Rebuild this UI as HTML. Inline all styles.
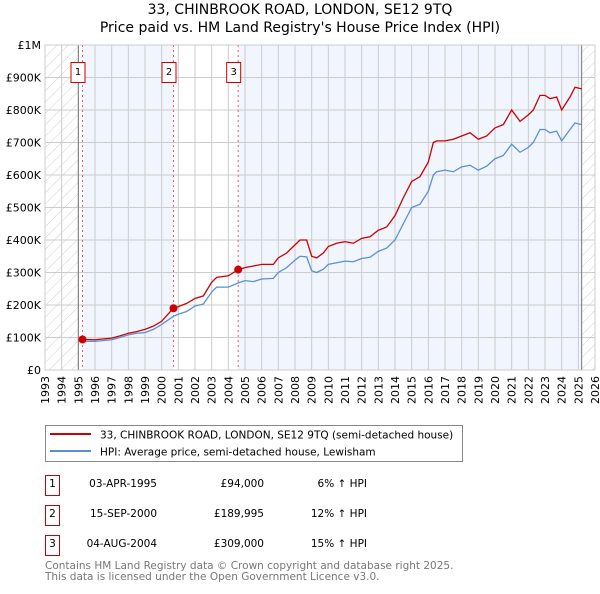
<!DOCTYPE html>
<html><head><meta charset="utf-8"><style>
body{margin:0;background:#fff;font-family:"DejaVu Sans","Liberation Sans",sans-serif;}
svg text{font-family:"DejaVu Sans","Liberation Sans",sans-serif;}
</style></head><body>
<svg id="c" width="600" height="590" xmlns="http://www.w3.org/2000/svg">
<defs><pattern id="hatch" width="8" height="8" patternUnits="userSpaceOnUse" patternTransform="rotate(45)"><line x1="0" y1="0" x2="0" y2="8" stroke="#bbb" stroke-width="0.7"/></pattern></defs>
<text x="300" y="14" text-anchor="middle" font-size="14">33, CHINBROOK ROAD, LONDON, SE12 9TQ</text>
<text x="300" y="32" text-anchor="middle" font-size="14">Price paid vs. HM Land Registry's House Price Index (HPI)</text>
<g id="plot"></g>
<g>
<rect x="45.5" y="425.5" width="417" height="36" fill="#fff" stroke="#888"/>
<line x1="50" y1="434" x2="91" y2="434" stroke="#cc0000" stroke-width="2"/>
<text x="100" y="438.5" font-size="10.5">33, CHINBROOK ROAD, LONDON, SE12 9TQ (semi-detached house)</text>
<line x1="50" y1="451" x2="91" y2="451" stroke="#5b8fd4" stroke-width="2"/>
<text x="100" y="455.5" font-size="10.5">HPI: Average price, semi-detached house, Lewisham</text>
</g>
<g font-size="10.5">
<rect x="45.5" y="475.5" width="14" height="20" fill="#fff" stroke="#cc0000"/><text x="52.5" y="487" text-anchor="middle">1</text>
<text x="157" y="487" text-anchor="end">03-APR-1995</text><text x="264" y="487" text-anchor="end">£94,000</text><text x="367" y="487" text-anchor="end">6% ↑ HPI</text>
<rect x="45.5" y="505.5" width="14" height="20" fill="#fff" stroke="#cc0000"/><text x="52.5" y="517" text-anchor="middle">2</text>
<text x="157" y="517" text-anchor="end">15-SEP-2000</text><text x="264" y="517" text-anchor="end">£189,995</text><text x="367" y="517" text-anchor="end">12% ↑ HPI</text>
<rect x="45.5" y="535.5" width="14" height="20" fill="#fff" stroke="#cc0000"/><text x="52.5" y="547" text-anchor="middle">3</text>
<text x="157" y="547" text-anchor="end">04-AUG-2004</text><text x="264" y="547" text-anchor="end">£309,000</text><text x="367" y="547" text-anchor="end">15% ↑ HPI</text>
</g>
<text x="45" y="569" font-size="10.5" fill="#777">Contains HM Land Registry data © Crown copyright and database right 2025.</text>
<text x="45" y="580" font-size="10.5" fill="#777">This data is licensed under the Open Government Licence v3.0.</text>
</svg>
<script>
const years=[1995.25,1996,1997,1997.5,1998,1998.5,1999,1999.5,2000,2000.7,2001,2001.5,2002,2002.5,2003,2003.3,2004,2004.6,2005,2005.5,2006,2006.7,2007,2007.5,2008,2008.3,2008.7,2009,2009.3,2009.7,2010,2010.5,2011,2011.5,2012,2012.5,2013,2013.5,2014,2014.5,2015,2015.5,2016,2016.3,2016.5,2017,2017.5,2018,2018.5,2019,2019.5,2020,2020.5,2021,2021.5,2022,2022.3,2022.7,2023,2023.3,2023.7,2024,2024.5,2024.8,2025.2];
const hpi=[88,88,93,100,108,113,115,125,140,165,172,180,197,203,240,255,255,268,275,272,280,282,300,315,338,350,348,305,300,310,325,330,335,333,343,347,365,375,400,450,500,510,550,600,610,615,610,625,630,615,627,650,660,695,670,685,700,740,740,730,735,705,740,760,755];
const price=[94,93,98,105,113,118,125,135,150,190,195,205,220,228,270,285,290,309,315,320,325,325,345,360,385,400,400,350,345,360,380,390,395,390,405,410,430,440,475,530,580,595,640,700,705,705,710,720,730,710,720,745,755,800,765,785,800,845,845,835,840,800,840,870,865];
const saleYears=[1995.25,2000.71,2004.59];
const salePrices=[94,189.995,309];
const yTicks=[0,100,200,300,400,500,600,700,800,900,1000];
const yLabels=["£0","£100K","£200K","£300K","£400K","£500K","£600K","£700K","£800K","£900K","£1M"];
const xTicks=[1993,1994,1995,1996,1997,1998,1999,2000,2001,2002,2003,2004,2005,2006,2007,2008,2009,2010,2011,2012,2013,2014,2015,2016,2017,2018,2019,2020,2021,2022,2023,2024,2025,2026];
const L=45,R=595,T=45,B=370;
const X=v=>L+(v-1993)/(33)*(R-L);
const Y=v=>B-v/1000*(B-T);
const g=document.getElementById('plot');
const NS='http://www.w3.org/2000/svg';
function mk(t,a){const e=document.createElementNS(NS,t);for(const k in a)e.setAttribute(k,a[k]);g.appendChild(e);return e;}
let e;
e=mk('rect',{x:L,y:T,width:R-L,height:B-T,fill:'#fff'});


e=mk('rect',{x:X(saleYears[0]),y:T,width:X(saleYears[1])-X(saleYears[0]),height:B-T,fill:'#f1f5fd'});


e=mk('rect',{x:X(saleYears[2]),y:T,width:X(2025.2)-X(saleYears[2]),height:B-T,fill:'#f1f5fd'});


e=mk('rect',{x:L,y:T,width:X(1995)-L,height:B-T,fill:'url(#hatch)'});


e=mk('rect',{x:X(2025.2),y:T,width:R-X(2025.2),height:B-T,fill:'url(#hatch)'});


xTicks.forEach(v=>{
 e=mk('line',{x1:X(v),x2:X(v),y1:T,y2:B,stroke:'#ccc','stroke-width':1});
 
 
 e=mk('text',{x:0,y:0,'font-size':11,'text-anchor':'end',transform:`translate(${X(v)+4},${B+6}) rotate(-90)`});
 e.textContent=v;
 
 
});
yTicks.forEach((v,i)=>{
 e=mk('line',{x1:L,x2:R,y1:Y(v),y2:Y(v),stroke:'#ccc','stroke-width':1});
 
 
 e=mk('text',{x:L-4,y:Y(v)+4,'font-size':11,'text-anchor':'end'});
 e.textContent=yLabels[i];
 
 
});
[1995,2025.2].forEach(v=>{
 e=mk('line',{x1:X(v),x2:X(v),y1:T,y2:B,stroke:'#777','stroke-width':1});
 
 
});
saleYears.forEach((v,i)=>{
 e=mk('line',{x1:X(v),x2:X(v),y1:T,y2:B,stroke:'#e06060','stroke-width':1,'stroke-dasharray':'2,3'});
 
 
 e=mk('rect',{x:X(v)-11.5,y:62.5,width:14,height:20,fill:'#fff',stroke:'#cc0000'});
 
 
 e=mk('text',{x:X(v)-4.5,y:75,'font-size':10,'text-anchor':'middle'});
 e.textContent=i+1;
 
 
});
e=mk('polyline',{points:years.map((y,i)=>X(y)+','+Y(hpi[i])).join(' '),fill:'none',stroke:'#5b8fd4','stroke-width':1.3});


e=mk('polyline',{points:years.map((y,i)=>X(y)+','+Y(price[i])).join(' '),fill:'none',stroke:'#cc0000','stroke-width':1.3});


saleYears.forEach((v,i)=>{
 e=mk('circle',{cx:X(v),cy:Y(salePrices[i]),r:4,fill:'#cc0000'});
 
 
});
e=mk('rect',{x:L,y:T,width:R-L,height:B-T,fill:'none',stroke:'#ccc'});


</script>
</body></html>
